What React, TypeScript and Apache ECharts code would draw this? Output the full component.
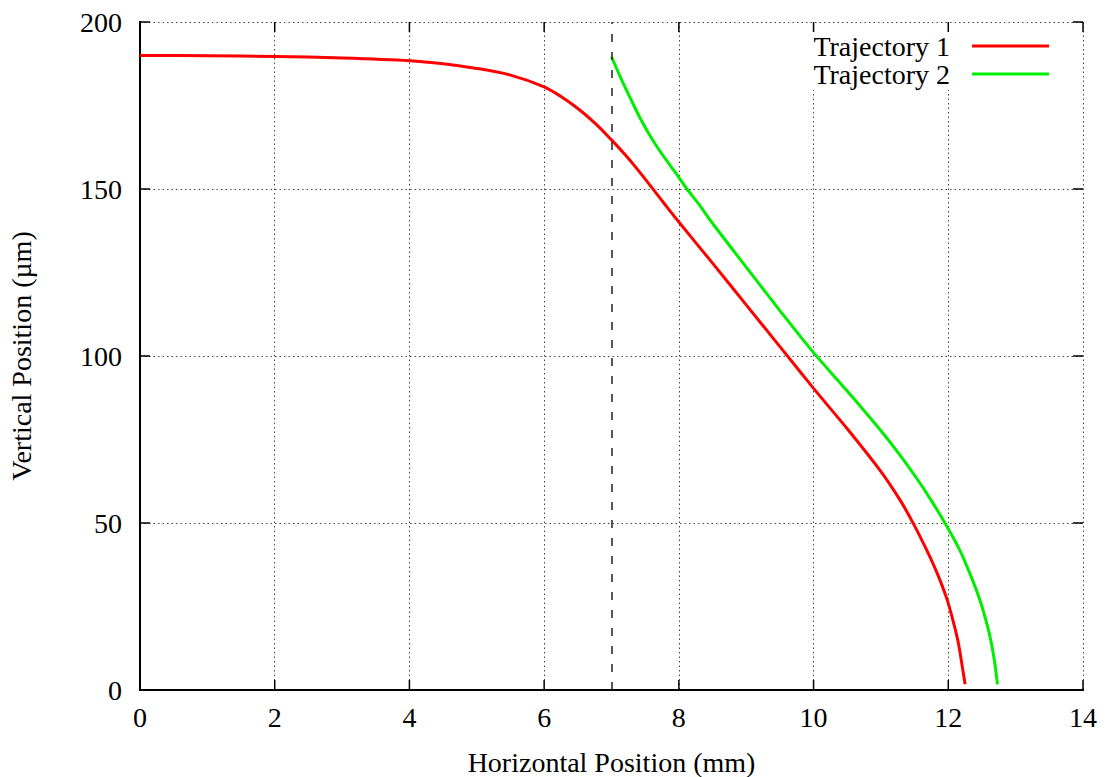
import React, { useEffect, useRef } from "react";
import * as echarts from "echarts";

const xTicks = [0, 2, 4, 6, 8, 10, 12, 14];
const yTicks = [0, 50, 100, 150, 200];

const traj1X = [0, 1, 2, 3, 4, 4.5, 5, 5.5, 6, 6.25, 6.5, 6.75, 7, 7.2, 7.4, 7.6, 7.8, 8, 8.5, 9, 9.5, 10, 10.5, 11, 11.28, 11.48, 11.68, 11.83, 11.98, 12.08, 12.15, 12.2, 12.25];
const traj1Y = [190, 189.9, 189.7, 189.2, 188.4, 187.5, 186.1, 184.1, 180.6, 177.7, 174.1, 169.8, 164.7, 160.3, 155.5, 150.4, 145.2, 140.1, 127.8, 115.3, 102.8, 90.3, 78.2, 65.4, 57, 49.9, 41.9, 35.2, 27.2, 20, 14, 8, 1.7];

const traj2X = [7, 7.13, 7.27, 7.42, 7.57, 7.72, 7.87, 8.01, 8.12, 8.31, 8.46, 9, 9.5, 10, 10.5, 11, 11.28, 11.53, 11.73, 11.95, 12.17, 12.32, 12.47, 12.57, 12.64, 12.69, 12.73];
const traj2Y = [189.6, 183.6, 177.6, 171.4, 166, 161.3, 157.1, 153.2, 150, 145.1, 140.8, 126.6, 113.6, 101, 89.5, 77.6, 70.4, 63.4, 57.3, 50, 41.9, 34.9, 26.9, 20, 14, 8, 1.7];

const dividerX = 7;

const FONT = "Liberation Serif";
const TICK_LEN = 10;

export default function App() {
  const ref = useRef<HTMLDivElement>(null);
  useEffect(() => {
    if (!ref.current) return;
    const chart = echarts.init(ref.current, undefined, { renderer: "svg" });
    const axisLineStyle = { color: "#000", width: 2 };
    const split = () => ({ show: true, lineStyle: { color: "#444", width: 1, type: [1.5, 3] as any } });
    const xMin = xTicks[0];
    const xMax = xTicks[xTicks.length - 1];
    const yMin = yTicks[0];
    const yMax = yTicks[yTicks.length - 1];
    const tickStyle = { stroke: "#000", lineWidth: 1.5 };
    chart.setOption({
      animation: false,
      backgroundColor: "#fff",
      grid: { left: 140, right: 27, top: 22, bottom: 87, containLabel: false, outerBoundsMode: "none" },
      legend: {
        orient: "vertical",
        right: 55,
        top: 30,
        align: "right",
        icon: "rect",
        itemWidth: 77,
        itemHeight: 3,
        itemGap: 0,
        padding: [2, 6, 2, 6],
        backgroundColor: "#fff",
        textStyle: { fontFamily: FONT, fontSize: 28, color: "#000", padding: [0, 17, 0, 0] },
        data: ["Trajectory 1", "Trajectory 2"],
      },
      xAxis: [
        {
          type: "value",
          min: xMin,
          max: xMax,
          interval: 2,
          name: "Horizontal Position (mm)",
          nameLocation: "middle",
          nameGap: 58,
          nameTextStyle: { fontFamily: FONT, fontSize: 28, color: "#000" },
          axisLine: { show: true, lineStyle: axisLineStyle },
          axisTick: { show: false },
          axisLabel: { fontFamily: FONT, fontSize: 28, color: "#000", margin: 13 },
          splitLine: split(),
        },
        {
          type: "value",
          position: "top",
          min: xMin,
          max: xMax,
          interval: 2,
          axisLine: { show: true, lineStyle: axisLineStyle },
          axisTick: { show: false },
          axisLabel: { show: false },
          splitLine: { show: false },
        },
      ],
      yAxis: [
        {
          type: "value",
          min: yMin,
          max: yMax,
          interval: 50,
          name: "Vertical Position (µm)",
          nameLocation: "middle",
          nameGap: 105,
          nameRotate: 90,
          nameTextStyle: { fontFamily: FONT, fontSize: 28, color: "#000" },
          axisLine: { show: true, lineStyle: axisLineStyle },
          axisTick: { show: false },
          axisLabel: { fontFamily: FONT, fontSize: 28, color: "#000", margin: 18 },
          splitLine: split(),
        },
        {
          type: "value",
          position: "right",
          min: yMin,
          max: yMax,
          interval: 50,
          axisLine: { show: true, lineStyle: axisLineStyle },
          axisTick: { show: false },
          axisLabel: { show: false },
          splitLine: { show: false },
        },
      ],
      series: [
        {
          name: "Trajectory 1",
          type: "line",
          symbol: "none",
          smooth: 0.3,
          color: "#ff0000",
          lineStyle: { color: "#ff0000", width: 3 },
          data: traj1X.map((x, i) => [x, traj1Y[i]]),
          markLine: {
            silent: true,
            symbol: ["none", "none"],
            label: { show: false },
            lineStyle: { color: "#222", width: 1.5, type: [8, 10] as any },
            data: [{ xAxis: dividerX }],
          },
          z: 3,
        },
        {
          name: "Trajectory 2",
          type: "line",
          symbol: "none",
          smooth: 0.3,
          color: "#00ee00",
          lineStyle: { color: "#00ee00", width: 3 },
          data: traj2X.map((x, i) => [x, traj2Y[i]]),
          z: 3,
        },
        {
          name: "xTickMarks",
          type: "custom",
          silent: true,
          clip: false,
          z: 5,
          data: xTicks.map((v) => [v, yMin]),
          renderItem: (params: any, api: any) => {
            const v = api.value(0);
            const b = api.coord([v, yMin]);
            const t = api.coord([v, yMax]);
            return {
              type: "group",
              children: [
                { type: "line", shape: { x1: b[0], y1: b[1], x2: b[0], y2: b[1] - TICK_LEN }, style: tickStyle },
                { type: "line", shape: { x1: t[0], y1: t[1], x2: t[0], y2: t[1] + TICK_LEN }, style: tickStyle },
              ],
            };
          },
        },
        {
          name: "yTickMarks",
          type: "custom",
          silent: true,
          clip: false,
          z: 5,
          data: yTicks.map((v) => [xMin, v]),
          renderItem: (params: any, api: any) => {
            const v = api.value(1);
            const l = api.coord([xMin, v]);
            const r = api.coord([xMax, v]);
            return {
              type: "group",
              children: [
                { type: "line", shape: { x1: l[0], y1: l[1], x2: l[0] + TICK_LEN, y2: l[1] }, style: tickStyle },
                { type: "line", shape: { x1: r[0], y1: r[1], x2: r[0] - TICK_LEN, y2: r[1] }, style: tickStyle },
              ],
            };
          },
        },
      ],
    });
    return () => chart.dispose();
  }, []);
  return (
    <div
      ref={ref}
      style={{ position: "fixed", left: 0, top: 0, width: 1110, height: 777, background: "#fff" }}
    />
  );
}
